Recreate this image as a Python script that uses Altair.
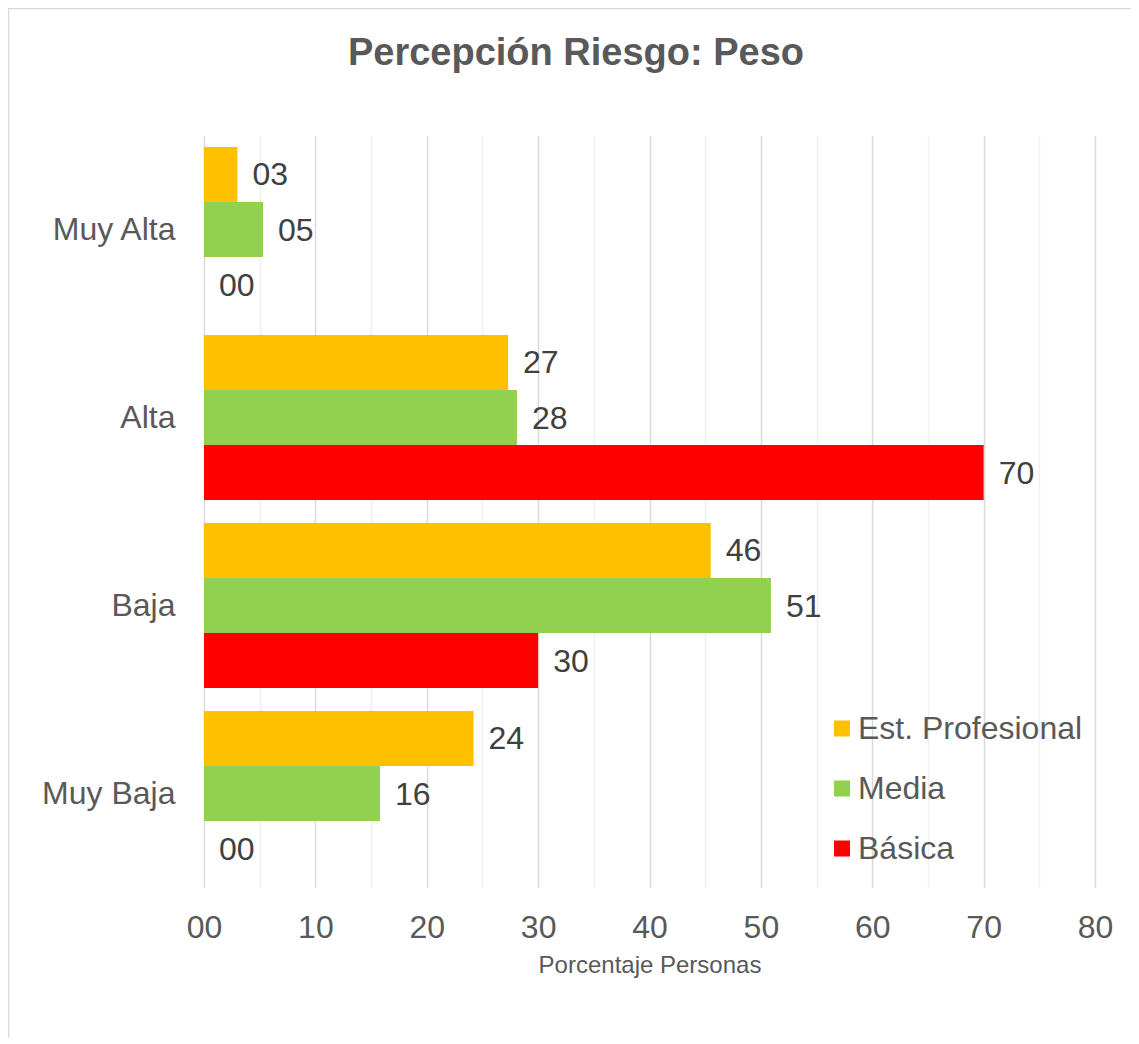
import altair as alt
import pandas as pd

categories = ["Muy Alta", "Alta", "Baja", "Muy Baja"]
series = ["Est. Profesional", "Media", "Básica"]
est_profesional = [3.0, 27.3, 45.5, 24.2]
media = [5.3, 28.1, 50.9, 15.8]
basica = [0.0, 70.0, 30.0, 0.0]
colors = ["#FFC000", "#92D050", "#FF0000"]
x_ticks = list(range(0, 81, 5))
chart_title = "Percepción Riesgo: Peso"

rows = []
for s, vals in zip(series, [est_profesional, media, basica]):
    for c, v in zip(categories, vals):
        rows.append({"Categoria": c, "Serie": s, "Valor": v})
df = pd.DataFrame(rows)

FONT = "Liberation Sans"
TXT = "#595959"
FS = 32

y_enc = alt.Y("Categoria:N", sort=categories,
              scale=alt.Scale(paddingInner=0.122, paddingOuter=0.061),
              axis=alt.Axis(title=None, labelFontSize=FS, labelPadding=29, ticks=False,
                            domain=False, labelColor=TXT, labelFont=FONT, grid=False))
yoff_enc = alt.YOffset("Serie:N", sort=series,
                       scale=alt.Scale(paddingInner=0, paddingOuter=0))
x_enc = alt.X("Valor:Q", scale=alt.Scale(domain=[0, 80], nice=False),
              axis=alt.Axis(values=x_ticks, title="Porcentaje Personas",
                            labelExpr="datum.value % 10 == 0 ? (datum.value < 10 ? '0' + datum.value : '' + datum.value) : ''",
                            labelFontSize=FS, labelPadding=25, ticks=False, domain=False,
                            labelFlush=False, labelOverlap=False,
                            labelColor=TXT, labelFont=FONT, titleFont=FONT,
                            titleFontSize=24, titleFontWeight="normal", titleColor=TXT,
                            titlePadding=10,
                            gridColor={"condition": {"test": "datum.value % 10 != 0", "value": "#efefef"},
                                       "value": "#d9d9d9"},
                            gridWidth=1.5))

bars = alt.Chart(df).mark_bar().encode(
    x=x_enc,
    y=y_enc,
    yOffset=yoff_enc,
    color=alt.Color("Serie:N", sort=series,
                    scale=alt.Scale(domain=series, range=colors),
                    legend=alt.Legend(title=None, orient="none", legendX=622, legendY=577,
                                      symbolType="square", symbolSize=256, symbolStrokeWidth=0,
                                      labelFontSize=FS, labelColor=TXT, labelFont=FONT,
                                      labelLimit=0, rowPadding=28, labelOffset=0)),
)

labels = alt.Chart(df).mark_text(align="left", baseline="middle", dx=15, dy=1, fontSize=FS,
                                 color="#404040", font=FONT).encode(
    x="Valor:Q",
    y=alt.Y("Categoria:N", sort=categories),
    yOffset=alt.YOffset("Serie:N", sort=series),
    text=alt.Text("Valor:Q", format="02.0f"),
)

border = alt.Chart(pd.DataFrame({"a": [0]})).mark_rect(
    fillOpacity=0, stroke="#d9d9d9", strokeWidth=1.5).encode(
    x=alt.value(-195.5), x2=alt.value(2000), y=alt.value(-127), y2=alt.value(2000))

title = alt.Chart(pd.DataFrame({"t": [chart_title]})).mark_text(
    fontSize=38, fontWeight="bold", font=FONT, color=TXT, align="center",
    baseline="middle").encode(
    text="t:N", x=alt.value(372), y=alt.value(-82))

chart = alt.layer(border, bars, labels, title).properties(
    width=891, height=752,
    autosize=alt.AutoSizeParams(type="none"),
    padding={"left": 196, "top": 127.5, "right": 36, "bottom": 150},
).configure(background="white").configure_view(stroke=None)

chart.save("out.html", embed_options={"renderer": "svg", "actions": False})
